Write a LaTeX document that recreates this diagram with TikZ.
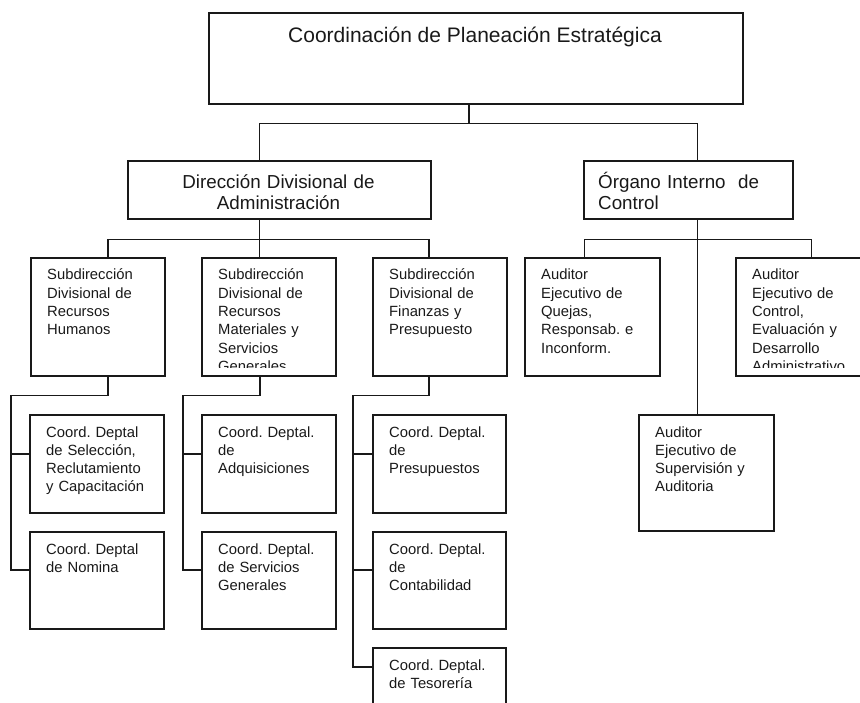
\documentclass[tikz,border=0pt]{standalone}
\usepackage{fontspec}
\setmainfont{Liberation Sans}
\usepackage{tikz}
\frenchspacing
\tikzset{
  caja/.style = {
    draw = black!90,
    line width = 1.6pt,
    anchor = north west,
    inner sep = 0pt
  },
  texto/.style = {
    anchor = base west,
    inner sep = 0pt,
    text width = 160pt,
    align = left,
    text = black!90,
    font = \fontsize{14.8}{18.3}\selectfont
  },
  rotulo/.style = {
    inner sep = 0pt,
    text = black!90,
    font = \fontsize{18.8}{21}\selectfont
  },
  titulo/.style = {
    anchor = base,
    inner sep = 0pt,
    text = black!90,
    font = \fontsize{21}{24}\selectfont
  },
  linea/.style = {
    draw = black!90,
    line width = 1.6pt
  },
}
% caja con texto recortado: nombre, x, y, ancho, alto, texto
\newcommand{\caja}[6]{
  \node[caja, minimum width = #4pt, minimum height = #5pt] (#1) at (#2,#3) {};
  \begin{scope}
    \clip (#1.north west) rectangle ([shift = {(0,-9)}]#1.south east);
    \node[texto] (#1-t) at ([shift = {(17,23)}]#1.north west) {#6};
  \end{scope}
}

\begin{document}
\begin{tikzpicture}[x = 1pt, y = -1pt]
  \clip (0,0) rectangle (860,703);
  % nivel 1
  \node[caja, minimum width = 534pt, minimum height = 91pt] (coord) at (208,12) {};
  \node[titulo] (coord-t) at ([shift = {(267,31)}]coord.north west)
    {Coordinación de Planeación Estratégica};
  % nivel 2
  \node[caja, minimum width = 303pt, minimum height = 58pt] (dir) at (127,160) {};
  \node[rotulo, anchor = base, text width = 290pt, align = center] (dir-t)
    at ([shift = {(151.5,29)}]dir.north west) {Dirección Divisional de\\Administración};
  \node[caja, minimum width = 209pt, minimum height = 58pt] (org) at (583,160) {};
  \node[rotulo, anchor = base west, text width = 190pt, align = left] (org-t)
    at ([shift = {(15,29)}]org.north west) {Órgano Interno\ \ de\\Control};
  % nivel 3
  \caja{srh}{30}{257}{134}{118}{Subdirección\\Divisional de\\Recursos\\Humanos}
  \caja{smg}{201}{257}{134}{118}{Subdirección\\Divisional de\\Recursos\\Materiales y\\Servicios\\Generales}
  \caja{sfp}{372}{257}{134}{118}{Subdirección\\Divisional de\\Finanzas y\\Presupuesto}
  \caja{aq}{524}{257}{135}{118}{Auditor\\Ejecutivo de\\Quejas,\\Responsab. e\\Inconform.}
  \caja{ac}{735}{257}{135}{118}{Auditor\\Ejecutivo de\\Control,\\Evaluación y\\Desarrollo\\Administrativo}
  \caja{asv}{638}{414}{135}{116}{Auditor\\Ejecutivo de\\Supervisión y\\Auditoria}
  % nivel 4
  \caja{c11}{29}{414}{134}{98}{Coord. Deptal\\de Selección,\\Reclutamiento\\y Capacitación}
  \caja{c12}{29}{531}{134}{97}{Coord. Deptal\\de Nomina}
  \caja{c21}{201}{414}{134}{98}{Coord. Deptal.\\de\\Adquisiciones}
  \caja{c22}{201}{531}{134}{97}{Coord. Deptal.\\de Servicios\\Generales}
  \caja{c31}{372}{414}{133}{98}{Coord. Deptal.\\de\\Presupuestos}
  \caja{c32}{372}{531}{133}{97}{Coord. Deptal.\\de\\Contabilidad}
  \caja{c33}{372}{647}{133}{97}{Coord. Deptal.\\de Tesorería}
  % conectores
  \draw[linea] ([xshift = -7pt]coord.south) -- ++(0,19) coordinate (b1);
  \draw[linea] ([xshift = -20pt]dir.north) |- (b1) -| ([xshift = 9pt]org.north);
  \draw[linea] ([xshift = -20pt]dir.south) -- ++(0,20) coordinate (b2);
  \draw[linea] ([xshift = 10pt]srh.north) |- (b2) -| ([xshift = -11pt]sfp.north);
  \draw[linea] (b2) -- (b2 |- smg.north);
  \draw[linea] ([xshift = 9pt]org.south) -- ++(0,20) coordinate (b3);
  \draw[linea] ([xshift = -8pt]aq.north) |- (b3) -| ([xshift = 8pt]ac.north);
  \draw[linea] (b3) -- (b3 |- asv.north);
  % ramas de las subdirecciones
  \draw[linea] ([xshift = 10pt]srh.south) -- ++(0,19) -| ([shift = {(-18,39)}]c12.north west)
    -- ([shift = {(0,39)}]c12.north west);
  \draw[linea] ([shift = {(-18,40)}]c11.north west) -- ([shift = {(0,40)}]c11.north west);
  \draw[linea] ([xshift = -9pt]smg.south) -- ++(0,19) -| ([shift = {(-18,39)}]c22.north west)
    -- ([shift = {(0,39)}]c22.north west);
  \draw[linea] ([shift = {(-18,40)}]c21.north west) -- ([shift = {(0,40)}]c21.north west);
  \draw[linea] ([xshift = -11pt]sfp.south) -- ++(0,19) -| ([shift = {(-19,20)}]c33.north west)
    -- ([shift = {(0,20)}]c33.north west);
  \draw[linea] ([shift = {(-19,40)}]c31.north west) -- ([shift = {(0,40)}]c31.north west);
  \draw[linea] ([shift = {(-19,39)}]c32.north west) -- ([shift = {(0,39)}]c32.north west);
\end{tikzpicture}
\end{document}
